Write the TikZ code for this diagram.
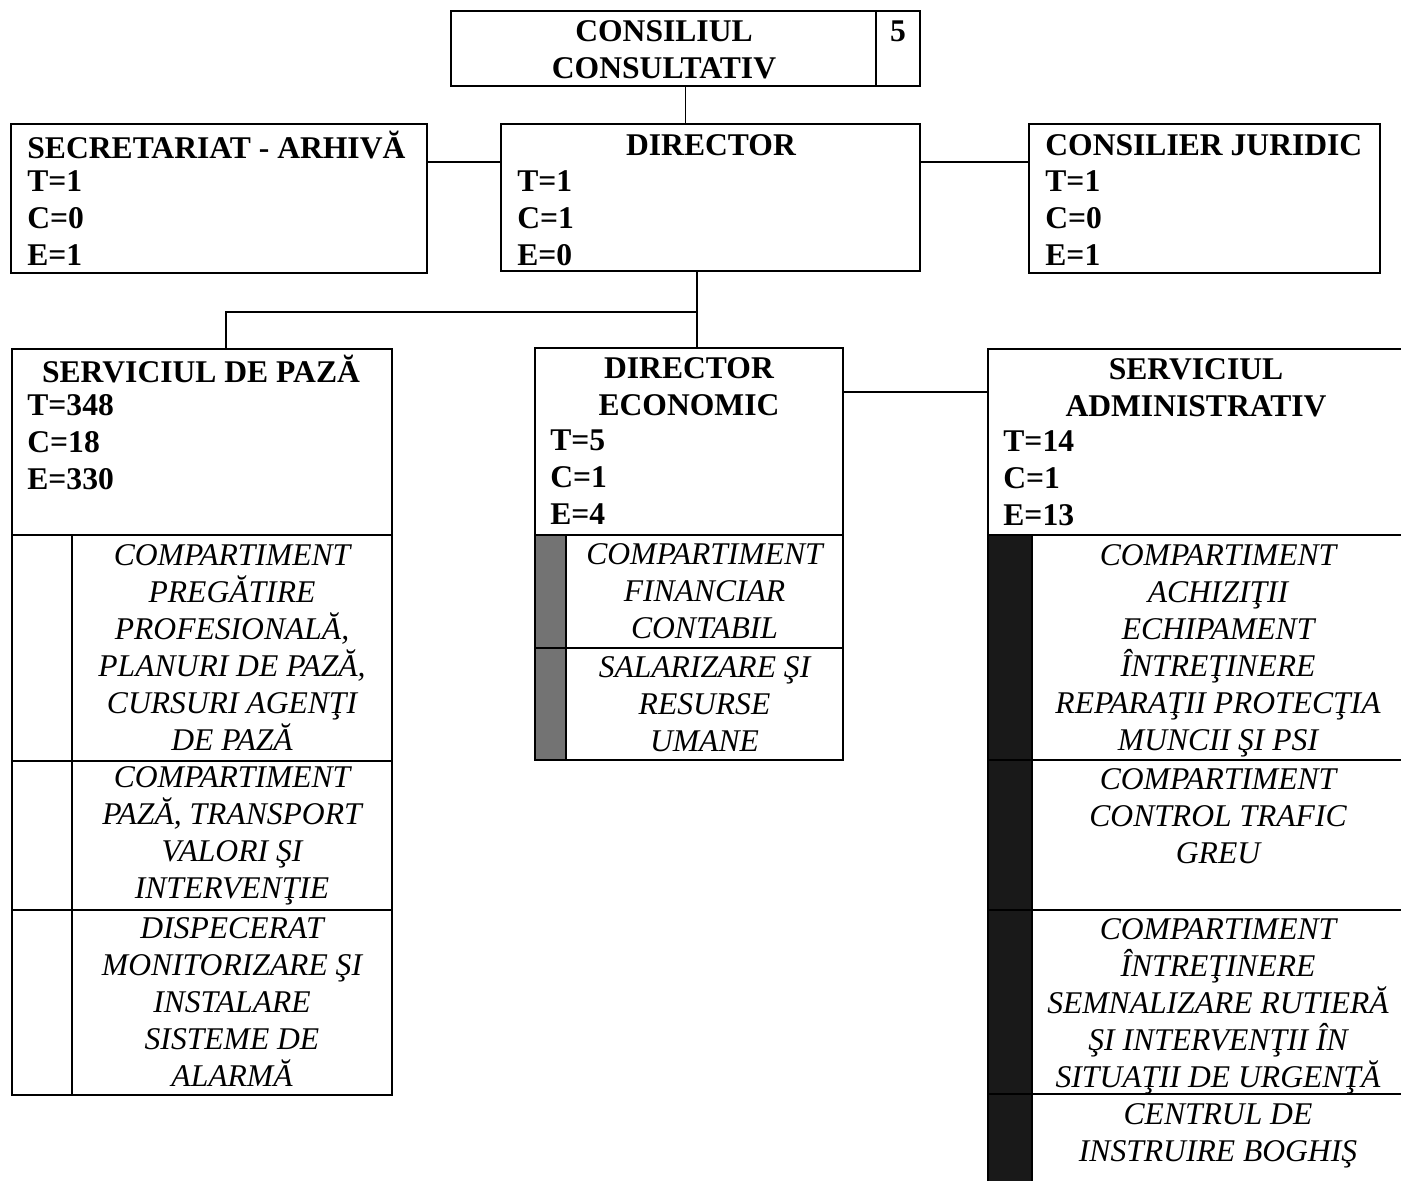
\documentclass[tikz,border=0pt]{standalone}
\usepackage{fontspec}
\setmainfont{Liberation Serif}
\usetikzlibrary{fit}
\newcommand{\orgsize}{\fontsize{15.8}{18.5}\selectfont}

\begin{document}
\begin{tikzpicture}[x=0.5pt,y=-0.5pt,
  box/.style={draw,line width=1pt,inner sep=0pt},
  celltxt/.style={align=center,inner sep=0pt,font=\orgsize\itshape},
  head/.style={font=\orgsize\bfseries,align=center,inner sep=0pt},
  data/.style={font=\orgsize\bfseries,align=left,anchor=west,inner sep=0pt},
  link/.style={line width=0.9pt}]
\useasboundingbox (0,0) rectangle (1401,1180);
\clip (0,0) rectangle (1401,1180);

% consiliul
\node[box, fit={(451,11) (920,86)}] (cons) {};
\node[box, fit={(876,11) (920,86)}] (nr) {};
\node[head] (constxt) at (664,50) {CONSILIUL\\CONSULTATIV};
\node[head] (nrtxt) at (898,31) {5};

% second level
\node[box, fit={(11,124) (427,273)}] (sec) {};
\node[data] (sectit) at (27,145) {SECRETARIAT - ARHIVĂ};
\node[data] (secnr) at (27,218) {T=1\\C=0\\E=1};

\node[box, fit={(501,124) (920,271)}] (dir) {};
\node[head] (dirtit) at (711,145) {DIRECTOR};
\node[data] (dirnr) at (517,218) {T=1\\C=1\\E=0};

\node[box, fit={(1029,124) (1380,273)}] (jur) {};
\node[data] (jurtit) at (1045,145) {CONSILIER JURIDIC};
\node[data] (jurnr) at (1045,218) {T=1\\C=0\\E=1};

% serviciul de paza
\node[box, fit={(12,349) (392,535)}] (paza) {};
\node[head] (pazatit) at (201,369) {SERVICIUL DE PAZĂ};
\node[data] (pazanr) at (27,442) {T=348\\C=18\\E=330};
\node[box, fit={(12,535) (72,761)}] (pazas1) {};
\node[box, fit={(12,761) (72,910)}] (pazas2) {};
\node[box, fit={(12,910) (72,1095)}] (pazas3) {};
\node[box, fit={(72,535) (392,761)}] (paza1) {};
\node[box, fit={(72,761) (392,910)}] (paza2) {};
\node[box, fit={(72,910) (392,1095)}] (paza3) {};
\node[celltxt] (paza1txt) at (paza1) {COMPARTIMENT\\PREGĂTIRE\\PROFESIONALĂ,\\PLANURI DE PAZĂ,\\CURSURI AGENŢI\\DE PAZĂ};
\node[celltxt] (paza2txt) at (paza2) {COMPARTIMENT\\PAZĂ, TRANSPORT\\VALORI ŞI\\INTERVENŢIE};
\node[celltxt] (paza3txt) at (paza3) {DISPECERAT\\MONITORIZARE ŞI\\INSTALARE\\SISTEME DE\\ALARMĂ};

% director economic
\node[box, fit={(535,348) (843,535)}] (eco) {};
\node[head] (ecotit) at (689,387) {DIRECTOR\\ECONOMIC};
\node[data] (econr) at (550,477) {T=5\\C=1\\E=4};
\node[box, fill=black!55, fit={(535,535) (566,648)}] (ecos1) {};
\node[box, fill=black!55, fit={(535,648) (566,760)}] (ecos2) {};
\node[box, fit={(566,535) (843,648)}] (eco1) {};
\node[box, fit={(566,648) (843,760)}] (eco2) {};
\node[celltxt] (eco1txt) at (eco1) {COMPARTIMENT\\FINANCIAR\\CONTABIL};
\node[celltxt] (eco2txt) at (eco2) {SALARIZARE ŞI\\RESURSE\\UMANE};

% serviciul administrativ
\node[box, fit={(988,349) (1404,535)}] (adm) {};
\node[head] (admtit) at (1196,388) {SERVICIUL\\ADMINISTRATIV};
\node[data] (admnr) at (1003,478) {T=14\\C=1\\E=13};
\node[box, fill=black!90, fit={(988,535) (1032,760)}] (adms1) {};
\node[box, fill=black!90, fit={(988,760) (1032,910)}] (adms2) {};
\node[box, fill=black!90, fit={(988,910) (1032,1094)}] (adms3) {};
\node[box, fill=black!90, fit={(988,1094) (1032,1190)}] (adms4) {};
\node[box, fit={(1032,535) (1404,760)}] (adm1) {};
\node[box, fit={(1032,760) (1404,910)}] (adm2) {};
\node[box, fit={(1032,910) (1404,1094)}] (adm3) {};
\node[box, fit={(1032,1094) (1404,1190)}] (adm4) {};
\node[celltxt] (adm1txt) at (1218,651) {COMPARTIMENT\\ACHIZIŢII\\ECHIPAMENT\\ÎNTREŢINERE\\REPARAŢII PROTECŢIA\\MUNCII ŞI PSI};
\node[celltxt] (adm2txt) at (1218,816) {COMPARTIMENT\\CONTROL TRAFIC\\GREU};
\node[celltxt] (adm3txt) at (1218,1006) {COMPARTIMENT\\ÎNTREŢINERE\\SEMNALIZARE RUTIERĂ\\ŞI INTERVENŢII ÎN\\SITUAŢII DE URGENŢĂ};
\node[celltxt] (adm4txt) at (1218,1136) {CENTRUL DE\\INSTRUIRE BOGHIŞ};

% links
\coordinate (row1) at (0,162);
\coordinate (row2) at (0,392);
\coordinate (fork) at (697,312);
\coordinate (forkl) at (226,312);
\draw[link] (cons.south) -- (cons.south |- dir.north);
\draw[link] (sec.east |- row1) -- (dir.west |- row1);
\draw[link] (dir.east |- row1) -- (jur.west |- row1);
\draw[link] (dir.south -| fork) -- (fork) -- (forkl) -- (forkl |- paza.north);
\draw[link] (fork) -- (fork |- eco.north);
\draw[link] (eco.east |- row2) -- (adm.west |- row2);
\end{tikzpicture}
\end{document}
